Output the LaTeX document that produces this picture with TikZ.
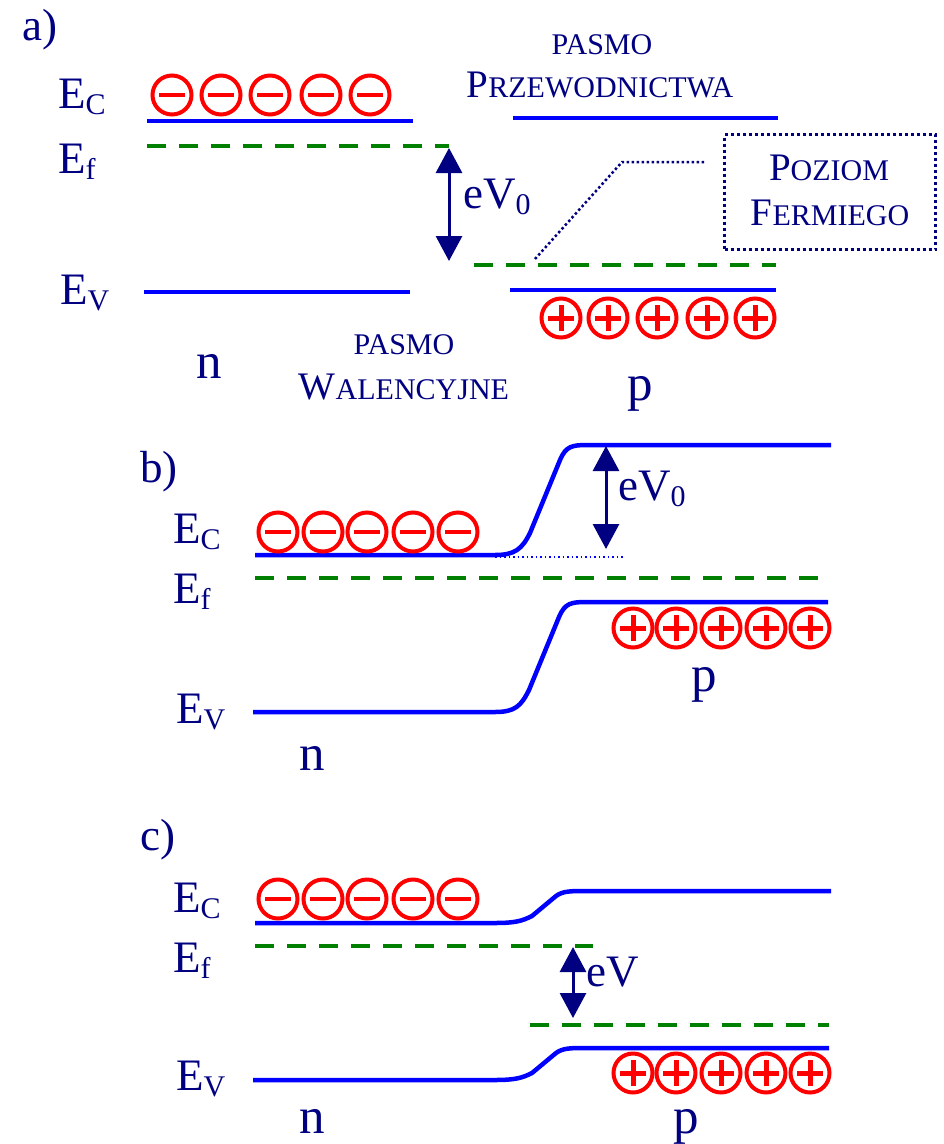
\documentclass[tikz,border=0pt]{standalone}
\usepackage{fontspec}
\setmainfont{Liberation Serif}
\usetikzlibrary{arrows.meta}
\definecolor{navy}{RGB}{0,0,128}
\definecolor{bandblue}{RGB}{0,0,255}
\definecolor{fermigreen}{RGB}{0,128,0}
\definecolor{chgred}{RGB}{255,0,0}
\newcommand{\lvlab}[2]{#1\raisebox{-6pt}{\fontsize{30}{30}\selectfont #2}}
\newcommand{\fsc}[2]{{\fontsize{39}{45}\selectfont #1}{\fontsize{30}{45}\selectfont #2}}
\newcommand{\minusbar}{\textcolor{chgred}{\rule[-2.25pt]{26pt}{4.5pt}}}
\newcommand{\plusbar}{\textcolor{chgred}{\makebox[0pt]{\rule[-2.5pt]{26pt}{5pt}}\makebox[0pt]{\rule[-13pt]{5pt}{26pt}}}}
\tikzset{
  txt/.style={text=navy, inner sep=0pt, font=\fontsize{45}{50}\selectfont},
  bigtxt/.style={text=navy, inner sep=0pt, font=\fontsize{51}{56}\selectfont},
  sctxt/.style={text=navy, inner sep=0pt},
  bandline/.style={draw=bandblue, line width=4.5pt},
  fermiline/.style={draw=fermigreen, line width=4.5pt, dash pattern=on 19pt off 13pt},
  charge/.style={circle, draw=chgred, line width=4pt, minimum size=39pt, inner sep=0pt},
  eva/.style={draw=navy, line width=3pt, {Triangle[width=26pt,length=25pt]}-{Triangle[width=26pt,length=25pt]}},
  leader/.style={draw=navy, line width=2.5pt, dash pattern=on 2.5pt off 2.5pt},
  fermibox/.style={draw=navy, line width=3.5pt, dash pattern=on 3pt off 3pt, minimum width=211pt, minimum height=115pt, inner sep=0pt},
}
\begin{document}
\begin{tikzpicture}[x=1pt,y=-1pt]
\useasboundingbox (0,0) rectangle (944,1144);

%%%%%%%%%%%%%%%% panel a
\node[txt, anchor=base west] (la) at (22,40) {a)};
\node[txt, anchor=base west] (aEc) at (58,108) {\lvlab{E}{C}};
\node[txt, anchor=base west] (aEf) at (58,173) {\lvlab{E}{f}};
\node[txt, anchor=base west] (aEv) at (60,304) {\lvlab{E}{V}};

\draw[bandline] (147,121) -- (413,121);
\draw[bandline] (513,118) -- (778,118);
\draw[bandline] (144,292) -- (410,292);
\draw[bandline] (510,290) -- (776,290);
\draw[fermiline] (147,146) -- (449,146);
\draw[fermiline] (474,265) -- (776,265);

\foreach \i/\x in {1/172,2/221,3/270,4/321,5/370}
  \node[charge] (am\i) at (\x,95) {\minusbar};
\foreach \i/\x in {1/561,2/608,3/657,4/707,5/755}
  \node[charge] (ap\i) at (\x,318) {\plusbar};

\coordinate (aat) at (449,148);
\coordinate (aab) at (449,261);
\draw[eva] (aat) -- (aab);
\node[txt, anchor=base west] (aev) at (463,208) {eV\raisebox{-6pt}{\fontsize{30}{30}\selectfont 0}};

\node[sctxt, anchor=base] (pasmo1) at (602,54) {\fontsize{30}{36}\selectfont PASMO};
\node[sctxt, anchor=base] (przew) at (600,97) {\fsc{P}{RZEWODNICTWA}};
\node[sctxt, anchor=base] (pasmo2) at (404,354) {\fontsize{30}{36}\selectfont PASMO};
\node[sctxt, anchor=base] (walen) at (404,399) {\fsc{W}{ALENCYJNE}};

\node[fermibox] (fbox) at (830,192) {};
\node[sctxt, anchor=base] (poziom) at (829,180) {\fsc{P}{OZIOM}};
\node[sctxt, anchor=base] (fermiego) at (830,225) {\fsc{F}{ERMIEGO}};
\coordinate (ld1) at (535,259);
\coordinate (ld2) at (622,162);
\coordinate (ld3) at (705,162);
\draw[leader] (ld1) -- (ld2) -- (ld3);

\node[bigtxt, anchor=base] (an) at (209,378) {n};
\node[bigtxt, anchor=base] (ap) at (640,400) {p};

%%%%%%%%%%%%%%%% panel b
\node[txt, anchor=base west] (lb) at (140,482) {b)};
\node[txt, anchor=base west] (bEc) at (173,543) {\lvlab{E}{C}};
\node[txt, anchor=base west] (bEf) at (173,603) {\lvlab{E}{f}};
\node[txt, anchor=base west] (bEv) at (176,723) {\lvlab{E}{V}};

\draw[bandline] (255,555) -- (495,555) .. controls (515,555) and (522,549) .. (530,533) -- (560,460) .. controls (566,446) and (572,445) .. (588,445) -- (831,445);
\draw[bandline] (253,712) -- (495,712) .. controls (515,712) and (521,706) .. (529,690) -- (559,617) .. controls (565,603) and (571,602) .. (587,602) -- (828,602);
\draw[draw=bandblue, line width=1.6pt, dash pattern=on 1.6pt off 2.9pt] (495,557) -- (625,557);
\draw[fermiline] (255,578) -- (829,578);

\foreach \i/\x in {1/278,2/323,3/367,4/413,5/458}
  \node[charge] (bm\i) at (\x,532) {\minusbar};
\foreach \i/\x in {1/633,2/676,3/721,4/766,5/810}
  \node[charge] (bp\i) at (\x,628) {\plusbar};

\coordinate (bat) at (606,446);
\coordinate (bab) at (606,549);
\draw[eva] (bat) -- (bab);
\node[txt, anchor=base west] (bev) at (618,500) {eV\raisebox{-6pt}{\fontsize{30}{30}\selectfont 0}};

\node[bigtxt, anchor=base] (bn) at (312,770) {n};
\node[bigtxt, anchor=base] (bp) at (704,691) {p};

%%%%%%%%%%%%%%%% panel c
\node[txt, anchor=base west] (lc) at (140,850) {c)};
\node[txt, anchor=base west] (cEc) at (173,912) {\lvlab{E}{C}};
\node[txt, anchor=base west] (cEf) at (173,972) {\lvlab{E}{f}};
\node[txt, anchor=base west] (cEv) at (176,1090) {\lvlab{E}{V}};

\draw[bandline] (255,923) -- (495,923) .. controls (515,923) and (522,921) .. (532,916) -- (556,896) .. controls (563,891) and (570,891) .. (588,891) -- (831,891);
\draw[bandline] (253,1080) -- (495,1080) .. controls (515,1080) and (522,1078) .. (532,1073) -- (556,1053) .. controls (563,1048) and (570,1048) .. (587,1048) -- (829,1048);
\draw[fermiline] (255,946) -- (593,946);
\draw[fermiline] (530,1025) -- (829,1025);

\foreach \i/\x in {1/278,2/323,3/367,4/413,5/458}
  \node[charge] (cm\i) at (\x,899) {\minusbar};
\foreach \i/\x in {1/633,2/676,3/721,4/766,5/810}
  \node[charge] (cp\i) at (\x,1073) {\plusbar};

\coordinate (cat) at (573,947);
\coordinate (cab) at (573,1018);
\draw[eva] (cat) -- (cab);
\node[txt, anchor=base west] (cev) at (586,986) {eV};

\node[bigtxt, anchor=base] (cn) at (312,1133) {n};
\node[bigtxt, anchor=base] (cp) at (686,1133) {p};
\end{tikzpicture}
\end{document}
